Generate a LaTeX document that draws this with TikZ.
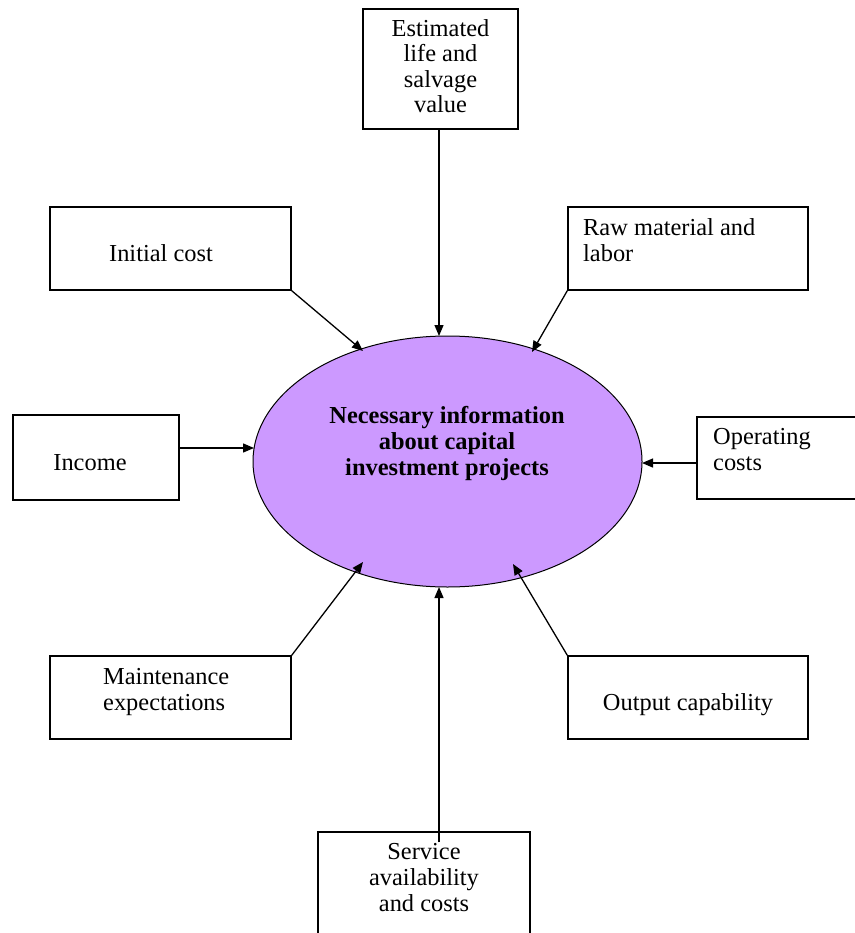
\documentclass[tikz,border=0pt]{standalone}
\usepackage{fontspec}
\setmainfont{Liberation Serif}
\usetikzlibrary{shapes.geometric,arrows.meta}
\definecolor{lav}{RGB}{204,153,255}
\begin{document}
\begin{tikzpicture}[x=1pt,y=-1pt,
  box/.style={draw, line width=1.4pt, rectangle, inner sep=0pt},
  txt/.style={inner sep=0pt, font=\fontsize{24.4}{25.6}\selectfont},
  btxt/.style={inner sep=0pt, font=\fontsize{24.4}{25.6}\selectfont\bfseries},
  conn/.style={line width=1.3pt, -{Triangle[length=11pt,width=9pt]}}]
\useasboundingbox (0,0) rectangle (854,933);
% ellipse
\node[ellipse, draw, line width=1pt, fill=lav, minimum width=389, minimum height=251, inner sep=0pt] (ell) at (447.5,461.5) {};
\node[btxt, anchor=base, align=center] (tell) at (447,475) {Necessary information\\about capital\\investment projects};
% boxes
\node[box, minimum width=155, minimum height=120] (els) at (440.5,69) {};
\node[box, minimum width=241, minimum height=83] (ic) at (170.5,248.5) {};
\node[box, minimum width=240, minimum height=83] (raw) at (688,248.5) {};
\node[box, minimum width=166, minimum height=85] (inc) at (96,457.5) {};
\node[box, minimum width=173, minimum height=82] (op) at (783.5,458) {};
\node[box, minimum width=241, minimum height=83] (mnt) at (170.5,697.5) {};
\node[box, minimum width=240, minimum height=83] (out) at (688,697.5) {};
\node[box, minimum width=212, minimum height=118] (svc) at (424,891) {};
% texts (base anchor = baseline of the last line)
\node[txt, anchor=base, align=center] (tels) at (440.5,113) {Estimated\\life and\\salvage\\value};
\node[txt, anchor=base] (tic) at (161,261) {Initial cost};
\node[txt, anchor=base west, align=left] (traw) at (583,261) {Raw material and\\labor};
\node[txt, anchor=base] (tinc) at (90,470) {Income};
\node[txt, anchor=base west, align=left] (top) at (713,470) {Operating\\costs};
\node[txt, anchor=base west, align=left] (tmnt) at (103,710) {Maintenance\\expectations};
\node[txt, anchor=base] (tout) at (688,710) {Output capability};
\node[txt, anchor=base, align=center] (tsvc) at (424,911) {Service\\availability\\and costs};
% ellipse border points
\coordinate (etop) at (439,336);
\coordinate (eic) at (363,351);
\coordinate (eraw) at (532,352);
\coordinate (einc) at (254,448);
\coordinate (eop) at (642,463);
\coordinate (emnt) at (363,562);
\coordinate (eout) at (513,564);
\coordinate (ebot) at (439,587);
% connectors
\draw[conn] (etop |- els.south) -- (etop);
\draw[conn] (ic.south east) -- (eic);
\draw[conn] (raw.south west) -- (eraw);
\draw[conn] (inc.east |- einc) -- (einc);
\draw[conn] (op.west |- eop) -- (eop);
\draw[conn] (mnt.north east) -- (emnt);
\draw[conn] (out.north west) -- (eout);
\draw[conn] ([yshift=-11pt]ebot |- svc.north) -- (ebot);
\end{tikzpicture}
\end{document}
